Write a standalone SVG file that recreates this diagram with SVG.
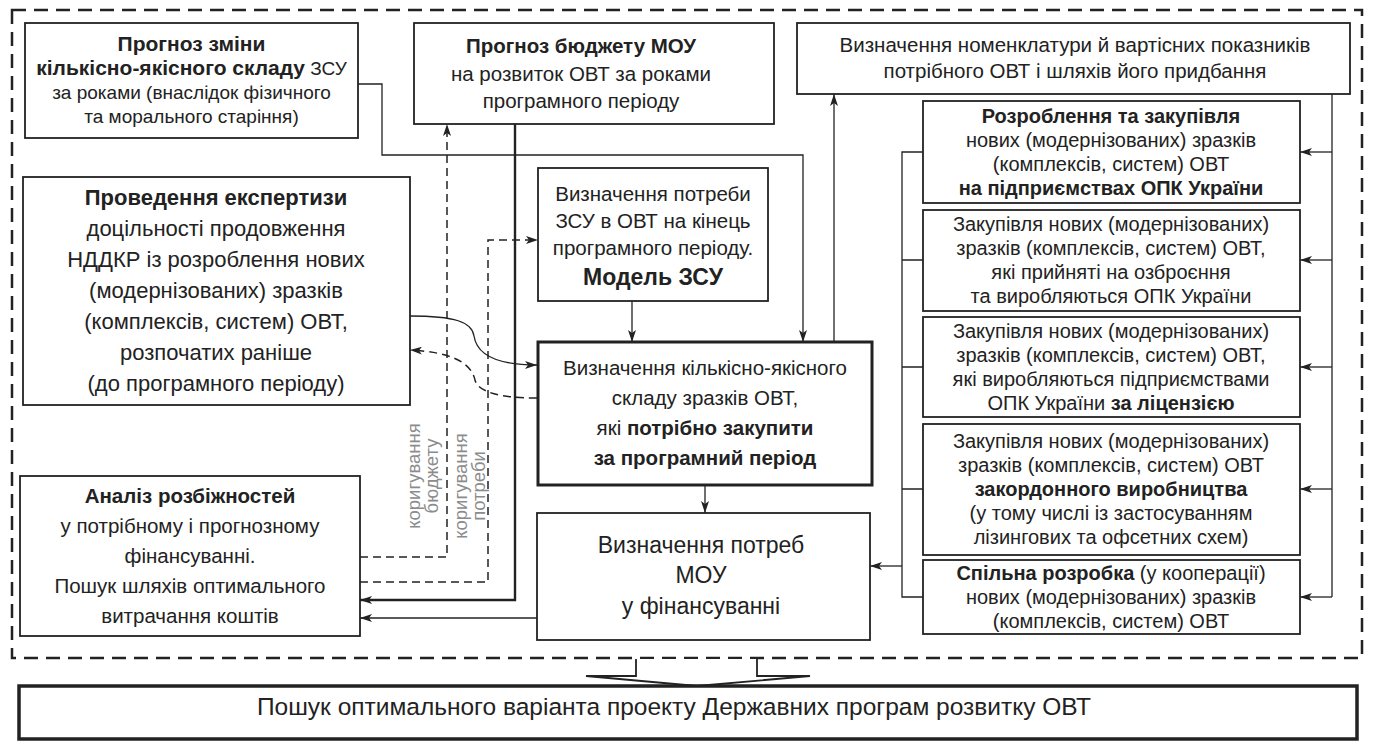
<svg xmlns="http://www.w3.org/2000/svg" width="1374" height="751" viewBox="0 0 1374 751">
<defs>
<style>
text{font-family:"Liberation Sans",Arial,sans-serif;fill:#222;text-anchor:middle}
.b{font-weight:bold}
.box{fill:#fff;stroke:#222;stroke-width:1.8}
.thick{fill:#fff;stroke:#222;stroke-width:3}
.ln{fill:none;stroke:#222;stroke-width:1.3}
.lnb{fill:none;stroke:#222;stroke-width:2.4}
.dash{fill:none;stroke:#222;stroke-width:1.5;stroke-dasharray:8 5}
.lbl{fill:#8c8c8c;font-size:18.5px}
.f19{font-size:19px}.f20{font-size:20.5px}.f22{font-size:22px}.f23{font-size:23px}.f21{font-size:21px}.fr{font-size:20px}.f24{font-size:24.5px}
</style>
<marker id="ar" viewBox="0 0 12 8" refX="12" refY="4" markerWidth="12" markerHeight="8" markerUnits="userSpaceOnUse" orient="auto">
<path d="M0,0 L12,4 L0,8 L3,4 Z" fill="#222"/>
</marker>
</defs>
<rect width="1374" height="751" fill="#fff"/>
<rect x="12" y="10" width="1350" height="648" fill="none" stroke="#222" stroke-width="2.5" stroke-dasharray="14 8"/>

<g id="connectors">
<path class="ln" d="M358,84 H382 V155 H803 V342" marker-end="url(#ar)"/>
<path class="lnb" d="M515,124 V600 H360" marker-end="url(#ar)"/>
<path class="ln" d="M537,618 H360" marker-end="url(#ar)"/>
<path class="ln" d="M632,301 V342" marker-end="url(#ar)"/>
<path class="ln" d="M705,485 V513" marker-end="url(#ar)"/>
<path class="ln" d="M834,342 V94" marker-end="url(#ar)"/>
<path class="ln" d="M1332,94 V597"/>
<path class="ln" d="M1332,152 H1300" marker-end="url(#ar)"/>
<path class="ln" d="M1332,260 H1300" marker-end="url(#ar)"/>
<path class="ln" d="M1332,367 H1300" marker-end="url(#ar)"/>
<path class="ln" d="M1332,489 H1300" marker-end="url(#ar)"/>
<path class="ln" d="M1332,597 H1300" marker-end="url(#ar)"/>
<path class="ln" d="M923,152 H902 V597 H923 M902,260 H923 M902,367 H923 M902,489 H923"/>
<path class="ln" d="M902,566 H870" marker-end="url(#ar)"/>
<path class="ln" d="M410,316 C455,316 472,322 474,336 C477,356 500,365 537,365" marker-end="url(#ar)"/>
<path class="dash" d="M537,398 C500,398 478,392 475,380 C471,362 450,352 410,350" marker-end="url(#ar)"/>
<path class="dash" d="M360,557 H447 V124" marker-end="url(#ar)"/>
<path class="dash" d="M360,582 H488 V240 H538" marker-end="url(#ar)"/>
</g>

<g id="labels">
<text class="lbl" transform="translate(420,476) rotate(-90)"><tspan x="0" y="0">коригування</tspan><tspan x="0" y="18">бюджету</tspan></text>
<text class="lbl" transform="translate(467,486) rotate(-90)"><tspan x="0" y="0">коригування</tspan><tspan x="0" y="18">потреби</tspan></text>
</g>

<g id="n1">
<rect class="box" x="25" y="23" width="333" height="115"/>
<text class="f19"><tspan x="191.5" y="51" class="b f21">Прогноз зміни</tspan><tspan x="191.5" y="75"><tspan class="b f21">кількісно-якісного складу</tspan> ЗСУ</tspan><tspan x="191.5" y="99">за роками (внаслідок фізичного</tspan><tspan x="191.5" y="123">та морального старіння)</tspan></text>
</g>

<g id="n2">
<rect class="box" x="414" y="23" width="360" height="101"/>
<text class="f20"><tspan x="581" y="53" class="b">Прогноз бюджету МОУ</tspan><tspan x="581" y="81">на розвиток ОВТ за роками</tspan><tspan x="581" y="108">програмного періоду</tspan></text>
</g>

<g id="n3">
<rect class="box" x="797" y="23" width="553" height="71"/>
<text class="f20"><tspan x="1075" y="52">Визначення номенклатури й вартісних показників</tspan><tspan x="1075" y="78">потрібного ОВТ і шляхів його придбання</tspan></text>
</g>

<g id="n4">
<rect class="box" x="23" y="177" width="387" height="228"/>
<text class="f22"><tspan x="216" y="205" class="b">Проведення експертизи</tspan><tspan x="216" y="236">доцільності продовження</tspan><tspan x="216" y="267">НДДКР із розроблення нових</tspan><tspan x="216" y="298">(модернізованих) зразків</tspan><tspan x="216" y="329">(комплексів, систем) ОВТ,</tspan><tspan x="216" y="360">розпочатих раніше</tspan><tspan x="216" y="391">(до програмного періоду)</tspan></text>
</g>

<g id="n5">
<rect class="box" x="538" y="168" width="230" height="133"/>
<text class="f20"><tspan x="653" y="201">Визначення потреби</tspan><tspan x="653" y="228">ЗСУ в ОВТ на кінець</tspan><tspan x="653" y="255">програмного періоду.</tspan><tspan x="653" y="285" class="b f23">Модель ЗСУ</tspan></text>
</g>

<g id="n6">
<rect class="thick" x="538" y="342" width="334" height="143"/>
<text class="f20"><tspan x="705" y="375">Визначення кількісно-якісного</tspan><tspan x="705" y="405">складу зразків ОВТ,</tspan><tspan x="705" y="435">які <tspan class="b">потрібно закупити</tspan></tspan><tspan x="705" y="465" class="b">за програмний період</tspan></text>
</g>

<g id="n7">
<rect class="box" x="537" y="513" width="333" height="127"/>
<text class="f23"><tspan x="701" y="553">Визначення потреб</tspan><tspan x="701" y="583">МОУ</tspan><tspan x="701" y="614">у фінансуванні</tspan></text>
</g>

<g id="n8">
<rect class="box" x="20" y="476" width="340" height="160"/>
<text class="f20"><tspan x="190" y="503" class="b">Аналіз розбіжностей</tspan><tspan x="190" y="533">у потрібному і прогнозному</tspan><tspan x="190" y="563">фінансуванні.</tspan><tspan x="190" y="593">Пошук шляхів оптимального</tspan><tspan x="190" y="623">витрачання коштів</tspan></text>
</g>

<g id="r1">
<rect class="box" x="923" y="101" width="377" height="102"/>
<text class="fr"><tspan x="1111" y="123" class="b">Розроблення та закупівля</tspan><tspan x="1111" y="147">нових (модернізованих) зразків</tspan><tspan x="1111" y="171">(комплексів, систем) ОВТ</tspan><tspan x="1111" y="195" class="b">на підприємствах ОПК України</tspan></text>
</g>

<g id="r2">
<rect class="box" x="923" y="210" width="377" height="101"/>
<text class="fr"><tspan x="1111" y="231">Закупівля нових (модернізованих)</tspan><tspan x="1111" y="255">зразків (комплексів, систем) ОВТ,</tspan><tspan x="1111" y="279">які прийняті на озброєння</tspan><tspan x="1111" y="303">та виробляються ОПК України</tspan></text>
</g>

<g id="r3">
<rect class="box" x="923" y="317" width="377" height="100"/>
<text class="fr"><tspan x="1111" y="338">Закупівля нових (модернізованих)</tspan><tspan x="1111" y="362">зразків (комплексів, систем) ОВТ,</tspan><tspan x="1111" y="386">які виробляються підприємствами</tspan><tspan x="1111" y="410">ОПК України <tspan class="b">за ліцензією</tspan></tspan></text>
</g>

<g id="r4">
<rect class="box" x="923" y="424" width="377" height="131"/>
<text class="fr"><tspan x="1111" y="448">Закупівля нових (модернізованих)</tspan><tspan x="1111" y="472">зразків (комплексів, систем) ОВТ</tspan><tspan x="1111" y="496" class="b">закордонного виробництва</tspan><tspan x="1111" y="520">(у тому числі із застосуванням</tspan><tspan x="1111" y="544">лізингових та офсетних схем)</tspan></text>
</g>

<g id="r5">
<rect class="box" x="923" y="560" width="377" height="74"/>
<text class="fr"><tspan x="1111" y="580"><tspan class="b">Спільна розробка</tspan> (у кооперації)</tspan><tspan x="1111" y="604">нових (модернізованих) зразків</tspan><tspan x="1111" y="628">(комплексів, систем) ОВТ</tspan></text>
</g>

<g id="arrowdown">
<path d="M636,659 V676 H586 L697,686 L810,676 H757 V659" fill="#fff" stroke="#222" stroke-width="1.8" stroke-linejoin="miter"/>
</g>

<g id="bottom">
<rect x="19" y="686" width="1338" height="53" fill="#fff" stroke="#222" stroke-width="3.5"/>
<text class="f24" x="674" y="715">Пошук оптимального варіанта проекту Державних програм розвитку ОВТ</text>
</g>
</svg>
